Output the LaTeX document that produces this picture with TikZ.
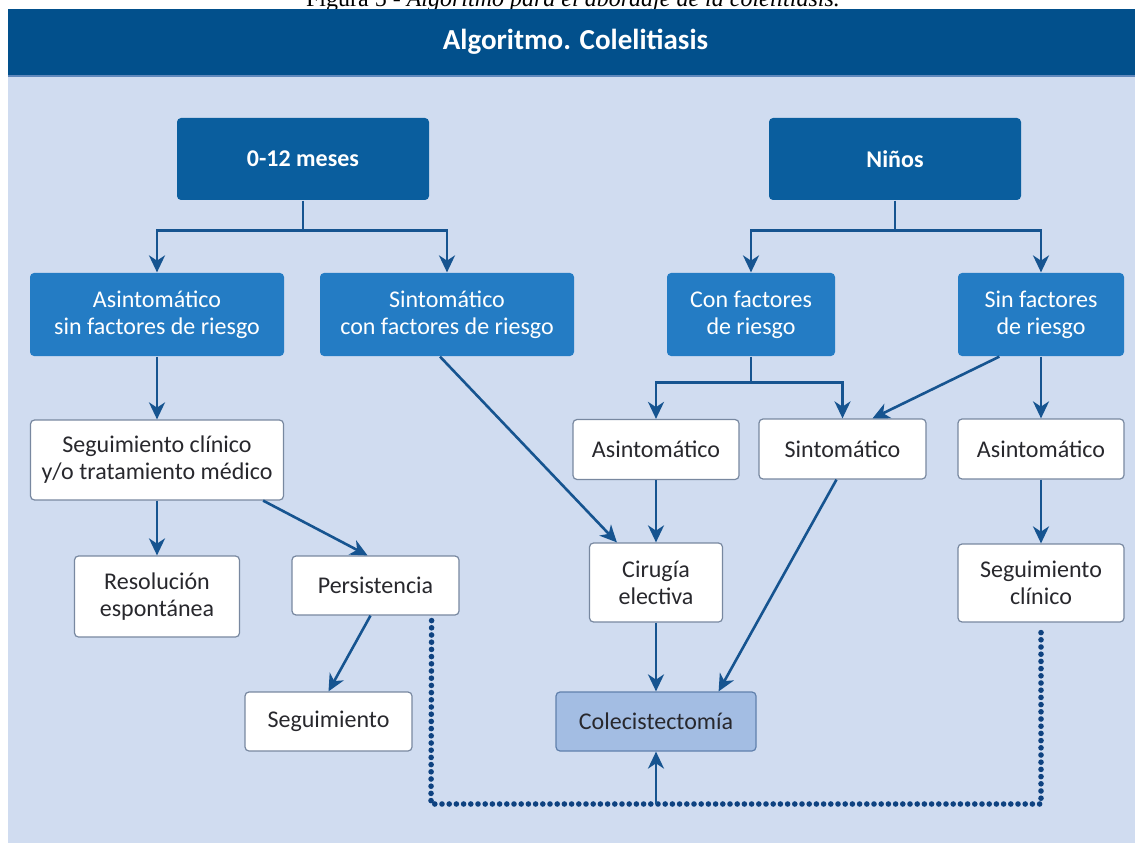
\documentclass[tikz,border=0pt]{standalone}
\usepackage{fontspec}
\setmainfont{Carlito}
\newfontfamily\capfont{Liberation Serif}
\usepackage{xcolor}
\usepackage{tikz}
\usetikzlibrary{arrows.meta}

\definecolor{headblue}{RGB}{2,80,140}
\definecolor{headline}{RGB}{96,136,188}
\definecolor{paleblue}{RGB}{208,220,240}
\definecolor{topblue}{RGB}{10,94,158}
\definecolor{midblue}{RGB}{36,124,196}
\definecolor{endblue}{RGB}{163,189,227}
\definecolor{endline}{RGB}{96,128,172}
\definecolor{boxline}{RGB}{120,136,160}
\definecolor{txtgrey}{RGB}{40,40,45}
\definecolor{arrblue}{RGB}{22,84,144}
\definecolor{dotblue}{RGB}{14,66,128}

\begin{document}
\begin{tikzpicture}[x=0.5pt, y=-0.5pt,
    box/.style={draw=boxline, fill=white, rounded corners=2pt, line width=0.6pt,
      align=center, inner sep=0pt, text=txtgrey, font=\fontsize{12}{13.5}\selectfont},
    topbox/.style={box, draw=none, fill=topblue, text=white,
      font=\bfseries\fontsize{12}{13.5}\selectfont},
    midbox/.style={box, draw=none, fill=midblue, text=white},
    endbox/.style={box, fill=endblue, draw=endline},
    conn/.style={draw=arrblue, line width=1.3pt},
    arr/.style={conn, -{Stealth[length=8.5pt,width=8pt,inset=2.6pt]}},
    dots/.style={draw=dotblue, line width=2.8pt, line cap=round, dash pattern=on 0pt off 3.6pt}]
    \useasboundingbox (0,0) rectangle (1135,845);

    % background and header
    \fill[paleblue] (8,76) rectangle (1135,843);
    \node[anchor=base, inner sep=0pt, font=\capfont\fontsize{12}{14}\selectfont] (caption) at (573,6.5)
    {Figura 5 - \textit{Algoritmo para el abordaje de la colelitiasis.}};
    \fill[headblue] (8,9) rectangle (1135,75);
    \draw[headline, line width=0.8pt] (8,75.8) -- (1135,75.8);
    \node[text=white, font=\bfseries\fontsize{14.5}{16}\selectfont] (title) at (575.5,42) {Algoritmo. Colelitiasis};

    % age groups
    \node[topbox, minimum width=126pt, minimum height=41pt] (zero) at (303,159) {0-12 meses};
    \node[topbox, minimum width=126pt, minimum height=41pt] (ninos) at (895,159) {Niños};

    % second level
    \node[midbox, minimum width=127pt, minimum height=41.5pt] (asinsin) at (157,314.5) {Asintomático\\sin factores de riesgo};
    \node[midbox, minimum width=127pt, minimum height=41.5pt] (sintcon) at (447,314.5) {Sintomático\\con factores de riesgo};
    \node[midbox, minimum width=84pt, minimum height=41.5pt] (confac) at (751,314.5) {Con factores\\de riesgo};
    \node[midbox, minimum width=83pt, minimum height=41.5pt] (sinfac) at (1041,314.5) {Sin factores\\de riesgo};

    % third level
    \node[box, minimum width=126.5pt, minimum height=40pt] (seguim) at (157,460) {Seguimiento clínico\\y/o tratamiento médico};
    \node[box, minimum width=83pt, minimum height=30pt] (asintC) at (656,449.5) {Asintomático};
    \node[box, minimum width=83.5pt, minimum height=30pt] (sintC) at (842.5,449) {Sintomático};
    \node[box, minimum width=83pt, minimum height=30pt] (asintR) at (1041,449) {Asintomático};

    % fourth level
    \node[box, minimum width=82.5pt, minimum height=40.5pt] (resol) at (157,596.5) {Resolución\\espontánea};
    \node[box, minimum width=83.5pt, minimum height=29.5pt] (persis) at (375.5,585.5) {Persistencia};
    \node[box, minimum width=66.5pt, minimum height=39.5pt] (cirug) at (656,582.5) {Cirugía\\electiva};
    \node[box, minimum width=83pt, minimum height=39pt] (segclin) at (1041,583) {Seguimiento\\clínico};

    % last level
    \node[box, minimum width=83.5pt, minimum height=29.5pt] (segui) at (328.5,721.5) {Seguimiento};
    \node[endbox, minimum width=100pt, minimum height=29.5pt] (colec) at (656,721.5) {Colecistectomía};

    % branches
    \draw[conn] (zero.south) -- ++(0,30) coordinate (zj);
    \draw[arr] (zj) -| (asinsin.north);
    \draw[arr] (zj) -| (sintcon.north);
    \draw[conn] (ninos.south) -- ++(0,30) coordinate (nj);
    \draw[arr] (nj) -| (confac.north);
    \draw[arr] (nj) -| (sinfac.north);
    \draw[conn] (confac.south) -- ++(0,26) coordinate (cj);
    \draw[arr] (cj) -| (asintC.north);
    \draw[arr] (cj) -| (sintC.north);

    % straight arrows
    \draw[arr] (asinsin.south) -- (seguim.north);
    \draw[arr] (seguim.south) -- (resol.north);
    \draw[arr] ([xshift=-10.5pt]seguim.south east) -- ([xshift=-4pt]persis.north);
    \draw[arr] ([xshift=-2.5pt]persis.south) -- (segui.north);
    \draw[arr] ([xshift=-3.5pt]sintcon.south) -- ([xshift=14pt]cirug.north west);
    \draw[arr] ([xshift=21pt]sinfac.south west) -- ([xshift=15pt]sintC.north);
    \draw[arr] (sinfac.south) -- (asintR.north);
    \draw[arr] (asintR.south) -- (segclin.north);
    \draw[arr] (asintC.south) -- (cirug.north);
    \draw[arr] (cirug.south) -- (colec.north);
    \draw[arr] ([xshift=-3pt]sintC.south) -- ([xshift=-19pt]colec.north east);

    % dotted return line
    \coordinate (dotl) at (431,804);
    \coordinate (dotr) at (1041,804);
    \draw[dots] ([xshift=-14pt,yshift=-2.5pt]persis.south east) -- (dotl) -- (dotr) -- ([yshift=-2.5pt]segclin.south);
    \draw[arr] (colec.south |- dotl) -- (colec.south);
\end{tikzpicture}
\end{document}
